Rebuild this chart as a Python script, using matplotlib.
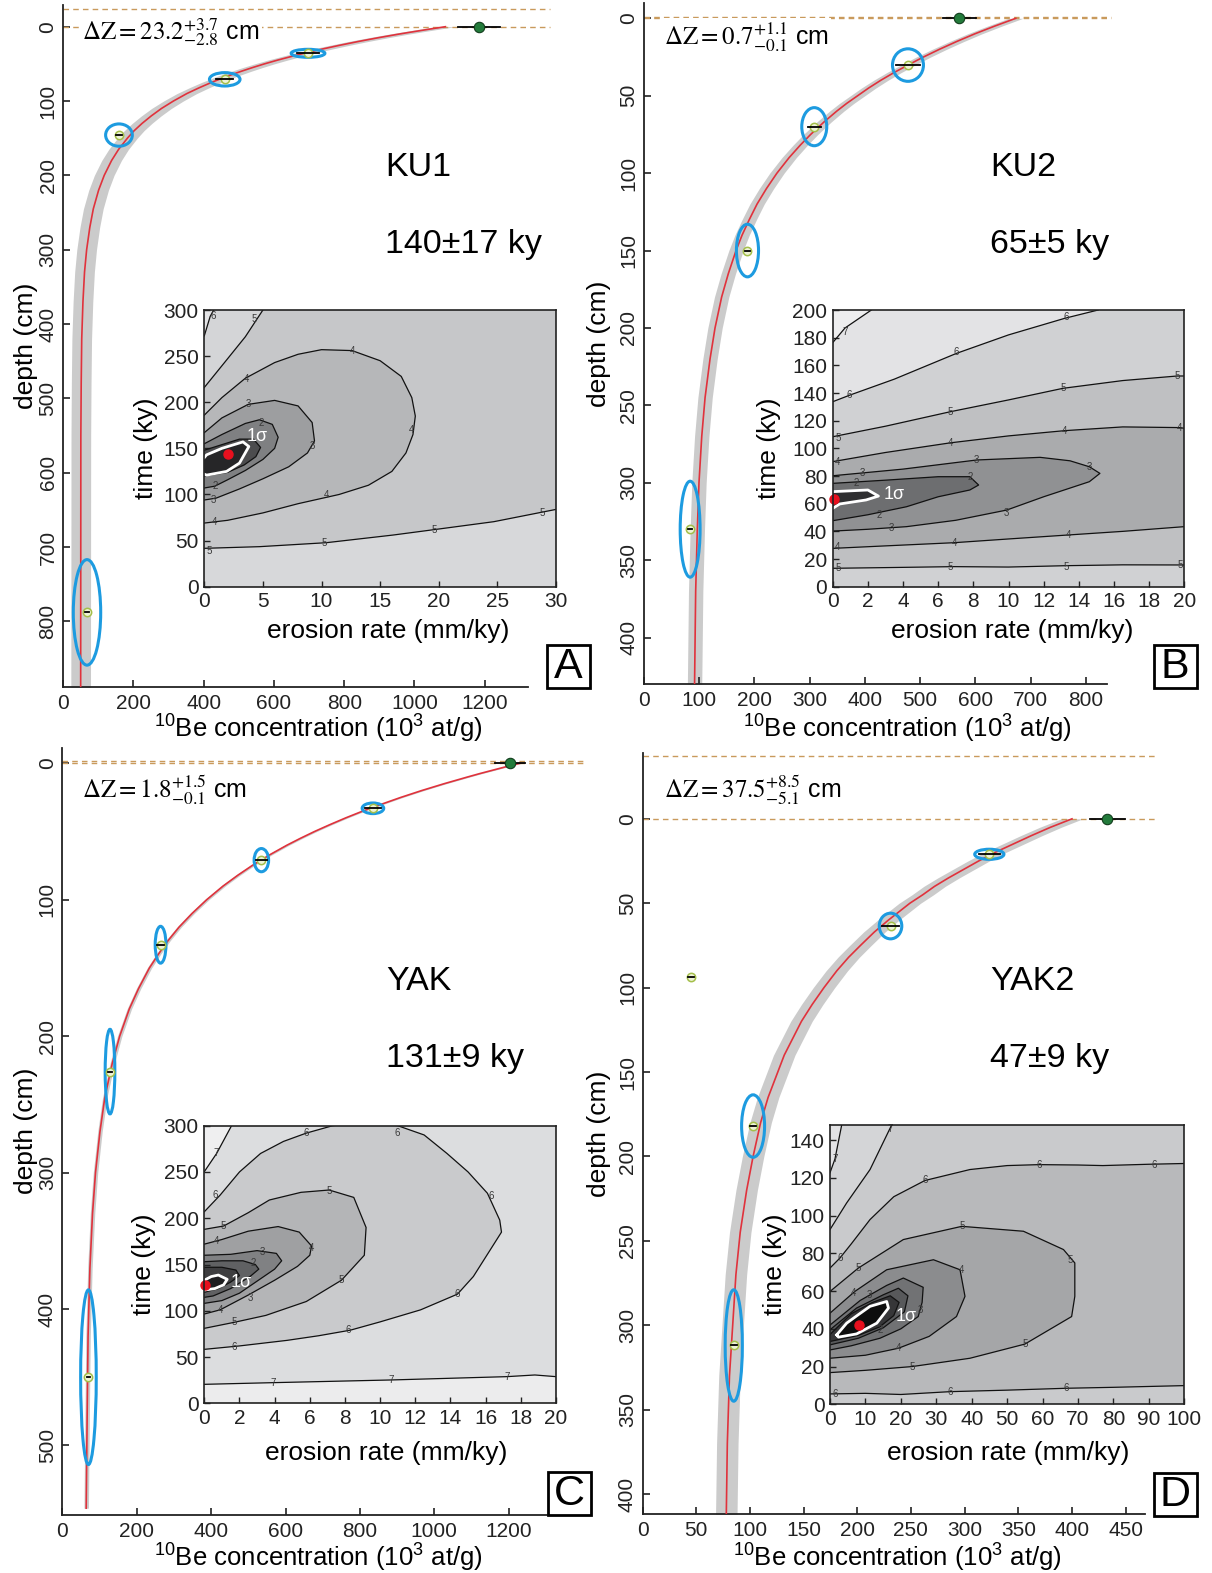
import numpy as np
import matplotlib
matplotlib.use('Agg')
import matplotlib.pyplot as plt
from matplotlib.patches import Ellipse, Rectangle

plt.rcParams['font.family'] = ['Liberation Sans', 'DejaVu Sans']
plt.rcParams['mathtext.fontset'] = 'custom'
plt.rcParams['mathtext.rm'] = 'Liberation Sans'
plt.rcParams['mathtext.it'] = 'Liberation Sans:italic'
plt.rcParams['mathtext.bf'] = 'Liberation Sans:bold'

# ------------------------------------------------------------------ data
# ---- A : KU1
ku1_curve_depth = [0, 2.5, 5, 7.5, 10, 15, 20, 25, 30, 35, 40, 45, 50, 55, 60, 67, 75, 82, 90, 100, 110, 120, 130,
                   140, 150, 165, 180, 200, 220, 245, 270, 300, 330, 370, 420, 480, 550, 890]
ku1_curve_conc = [1088, 1053, 1020, 987, 955, 895, 839, 787, 738, 692, 650, 610, 573, 539, 507, 465, 422, 388, 352,
                  314, 280, 251, 225, 202, 183, 158, 138, 117, 101, 86, 76, 67, 61, 56.5, 53, 51.5, 50.5, 50]
ku1_pt_conc = [697, 460, 159, 68]
ku1_pt_depth = [35.8, 70.8, 145.8, 788]
ku1_pt_err = [30, 24, 8, 5]
ku1_ell_halfw = [48, 43.5, 38, 39]
ku1_ell_halfh = [5.4, 9, 15, 71]
ku1_surface = [1184, 60]          # concentration, error
ku1_dz = 23.2
ku1_name, ku1_age = 'KU1', '140±17 ky'
ku1_dz_label = r'$\Delta\mathrm{Z} = 23.2^{+3.7}_{-2.8}$ cm'
ku1_best = [2.0, 143.8]
ku1_contours = [
    ('below', [0, 4.7, 10.4, 16.1, 19.8, 24.7, 30], [41.6, 43.4, 47.7, 56, 62.2, 70.5, 83.8]),
    ('topleft', [0, 1.9, 3.5, 5.0], [216, 245.8, 271, 300]),
    ('topleft', [0, 0.5, 0.8], [272, 293, 300]),
    ('closed', [0, 1.5, 3.5, 6, 8, 10, 12.6, 15, 16.8, 17.7, 18, 17.8, 17.2, 16, 14, 11.5, 8, 5, 2, 0],
     [186, 205, 226, 243, 252, 257, 256, 245, 228, 205, 185, 165, 145, 125, 110, 100, 90, 80, 72, 69]),
    ('closed', [0, 1.5, 3.75, 6, 8, 9.2, 9.4, 8.8, 7.2, 5, 3, 1, 0],
     [167, 183, 197.7, 202, 196, 178, 158, 145, 130, 117, 106, 96, 94]),
    ('closed', [0, 1.5, 3.5, 4.7, 5.8, 6.3, 6.0, 5.0, 3.5, 2, 0.9, 0],
     [155, 165, 177, 181, 176, 162, 150, 138, 126, 116, 109, 107]),
    ('closed', [0, 1.5, 3, 4.2, 4.8, 4.4, 3.4, 2, 0], [148, 154, 160, 160, 151, 141, 132, 124, 120]),
]
ku1_sigma = ([0, 0.2, 1.5, 3.3, 3.8, 3.4, 3.0, 1.9, 0.2, 0], [140, 143, 150, 157, 152, 143, 134, 125, 121, 122])
ku1_clabels = [('6', 0.8, 294), ('5', 4.3, 290), ('4', 3.6, 225), ('4', 12.6, 256), ('4', 17.7, 170),
               ('4', 10.4, 99), ('4', 0.85, 70.5), ('3', 3.75, 197.7), ('3', 9.2, 152.5), ('3', 0.8, 94),
               ('2', 4.9, 178), ('2', 0.9, 109.5), ('5', 0.4, 39), ('5', 10.2, 47), ('5', 19.6, 62),
               ('5', 28.8, 80)]

# ---- B : KU2
ku2_curve_depth = [0, 2.5, 5, 7.5, 10, 15, 20, 25, 30, 35, 40, 45, 50, 55, 60, 67, 75, 82, 90, 100, 110, 120, 130,
                   140, 150, 165, 180, 200, 220, 245, 270, 300, 330, 370, 430]
ku2_curve_conc = [673, 654, 635, 617, 599, 566, 535, 506, 479, 453, 429, 407, 387, 367, 349, 326, 302, 283, 263,
                  241, 222, 205, 191, 178, 167, 153, 141, 129, 120, 111, 105, 100, 97, 94, 92]
ku2_pt_conc = [478, 308.5, 187.7, 84]
ku2_pt_depth = [30.2, 70, 150, 330]
ku2_pt_err = [22, 12, 4, 3]
ku2_ell_halfw = [28, 22.6, 20, 18]
ku2_ell_halfh = [10.5, 12.3, 17, 31]
ku2_surface = [571, 30]
ku2_dz = 0.7
ku2_name, ku2_age = 'KU2', '65±5 ky'
ku2_dz_label = r'$\Delta\mathrm{Z} = 0.7^{+1.1}_{-0.1}$ cm'
ku2_best = [0.05, 63.5]
ku2_contours = [
    ('topleft', [0, 1, 3.5, 7.05, 10, 13.2, 15.1], [133.7, 138.6, 150, 168.7, 182, 194, 200]),
    ('topleft', [0, 0.7, 2.2], [176.4, 187, 200]),
    ('band', [0, 3, 6.7, 10, 13.1, 16.5, 19.6, 20], [108.4, 116, 126.5, 135, 143.4, 149, 152.3, 152.3],
     [0, 3, 6.9, 10, 13.3, 16.5, 20], [13.3, 13.8, 14.5, 14.2, 15.2, 15.8, 15.7]),
    ('band', [0, 3, 6.7, 10, 13.2, 16.5, 19.75, 20], [90.4, 97, 104, 109, 112.8, 115.5, 115, 114.5],
     [0, 3, 6.9, 10, 13.3, 16.5, 20], [27.7, 29.5, 31.8, 34.5, 37.3, 40, 43.4]),
    ('closed', [0, 4, 8.2, 11.8, 13.5, 14.6, 15.2, 14.6, 12, 9.9, 7, 4.2, 2, 0],
     [80.2, 85, 91.6, 93.5, 91, 86.7, 81.9, 75.9, 65, 55.4, 48, 43.4, 41.5, 40.2]),
    ('closed', [0, 3, 6, 7.8, 8.3, 7.8, 6, 4.2, 2, 0], [74.7, 77, 79.5, 79.5, 73.5, 69.9, 65, 57.8, 52, 47.7]),
]
ku2_sigma = ([0, 2.0, 2.6, 1.9, 0.4, 0], [68.7, 69.9, 65.5, 62.7, 59.8, 56.6])
ku2_clabels = [('7', 0.7, 184.3), ('6', 0.93, 138.6), ('6', 7.05, 169.9), ('6', 13.3, 194.7),
               ('5', 0.3, 107.2), ('5', 6.7, 126.5), ('5', 13.1, 143.4), ('5', 19.6, 152.3),
               ('4', 0.3, 90.4), ('4', 6.7, 104), ('4', 13.2, 112.8), ('4', 19.7, 114.5),
               ('3', 1.7, 82.4), ('3', 8.2, 91.6), ('3', 14.6, 86.7), ('3', 9.9, 53.5), ('3', 3.35, 42.7),
               ('2', 1.36, 75.2), ('2', 7.8, 79), ('2', 2.65, 51.8), ('4', 0.3, 28.9), ('4', 6.9, 31.8),
               ('4', 13.4, 37.3), ('5', 0.3, 13.3), ('5', 6.7, 14.5), ('5', 13.3, 14.5), ('5', 19.75, 15.7)]

# ---- C : YAK
yak_curve_depth = [0, 2.5, 5, 7.5, 10, 15, 20, 25, 30, 35, 40, 45, 50, 55, 60, 67, 75, 82, 90, 100, 110, 120, 130,
                   140, 150, 165, 180, 200, 220, 245, 270, 300, 330, 370, 420, 480, 546]
yak_curve_conc = [1230, 1193, 1158, 1123, 1090, 1026, 966, 910, 858, 808, 762, 719, 678, 640, 604, 558, 510, 472,
                  432, 388, 349, 314, 284, 258, 234, 205, 180, 154, 134, 114, 101, 89, 81, 74, 69, 66.5, 64]
yak_pt_conc = [835, 535, 264, 128, 70]
yak_pt_depth = [33, 71, 133, 226, 450]
yak_pt_err = [22, 14, 10, 5, 4]
yak_ell_halfw = [29, 19.5, 14.5, 13, 21]
yak_ell_halfh = [3.9, 8.5, 13.5, 31, 64]
yak_surface = [1203, 40]
yak_dz = 1.8
yak_name, yak_age = 'YAK', '131±9 ky'
yak_dz_label = r'$\Delta\mathrm{Z} = 1.8^{+1.5}_{-0.1}$ cm'
yak_best = [0.05, 127.8]
yak_contours = [
    ('topleft', [0, 0.7, 1.55], [250.3, 270, 300]),
    ('below', [0, 3.9, 10.6, 17.2, 18.8, 20], [20.5, 22.3, 25.2, 28.8, 30.6, 28.8]),
    ('closed', [0, 0.9, 2, 3.2, 4.5, 5.8, 7.3, 9, 11, 12.5, 13.8, 15, 16.1, 16.8, 16.9, 16.5, 15.3, 14.4, 12.3, 10,
                8.3, 6.5, 4.7, 2, 0],
     [207, 225, 250, 270, 283, 292, 300, 304, 300, 290, 270, 250, 227, 198, 185, 173, 137, 118, 101, 88, 79, 73,
      68, 62, 58.3]),
    ('closed', [0, 1.1, 2.5, 3.7, 5.5, 7.1, 8.5, 9.2, 9.1, 7.8, 5.8, 3.5, 1.7, 0],
     [188, 191.6, 206, 219.7, 228, 230.5, 222.5, 190, 160, 133, 110, 95, 87.5, 81]),
    ('closed', [0, 1, 2.5, 4.2, 5.4, 6.1, 6.0, 5.3, 4, 2.5, 0.9, 0],
     [172, 177, 186, 191, 185, 170, 160, 148, 133, 117, 101, 96.5]),
    ('closed', [0, 1.5, 3, 4.1, 4.4, 4.0, 3, 2, 1, 0], [160, 161, 165, 162, 154, 145, 132, 119, 111, 108]),
    ('closed', [0, 1, 2.2, 2.9, 3.1, 2.6, 1.5, 0.5, 0], [153, 154, 154, 150, 145, 137, 124, 116, 114.5]),
    ('closed', [0, 1, 1.8, 2.0, 1.5, 0.8, 0], [147, 147, 144, 138, 131, 124, 120]),
]
yak_sigma = ([0, 0.4, 0.8, 1.3, 1.1, 0.6, 0], [133, 137, 138.6, 134, 128, 124, 122.4])
yak_clabels = [('7', 0.7, 270), ('6', 0.6, 225), ('6', 5.8, 292), ('6', 11, 292), ('6', 16.3, 224),
               ('6', 14.4, 118), ('6', 8.2, 79), ('6', 1.7, 60.5), ('5', 1.1, 191.6), ('5', 7.1, 229),
               ('5', 7.8, 133), ('5', 1.7, 87.5), ('4', 0.7, 175), ('4', 6.1, 168), ('4', 0.9, 100.8),
               ('3', 3.3, 163), ('2', 2.8, 152), ('3', 2.6, 114), ('7', 3.9, 22.3), ('7', 10.6, 25.2),
               ('7', 17.2, 28.8)]

# ---- D : YAK2
yak2_curve_depth = [0, 2.5, 5, 7.5, 10, 15, 20, 25, 30, 35, 40, 45, 50, 55, 60, 67, 75, 82, 90, 100, 110, 120, 130,
                    140, 150, 165, 180, 200, 220, 245, 270, 300, 330, 370, 414]
yak2_curve_conc = [400, 390, 380, 371, 362, 345, 328, 313, 299, 285, 272, 261, 249, 239, 229, 216, 203, 192, 181,
                   169, 158, 148, 140, 132, 126, 117, 110, 103, 97, 91, 87, 84, 81, 79, 78]
yak2_pt_conc = [323, 231, 103, 85]
yak2_pt_depth = [21, 63.5, 182, 312]
yak2_pt_err = [10, 7.6, 3, 3]
yak2_ell_halfw = [13.6, 10.5, 10.7, 8]
yak2_ell_halfh = [3, 7.6, 18.5, 33]
yak2_outlier = [45.4, 93.5]
yak2_surface = [433, 16]
yak2_dz = 37.5
yak2_name, yak2_age = 'YAK2', '47±9 ky'
yak2_dz_label = r'$\Delta\mathrm{Z} = 37.5^{+8.5}_{-5.1}$ cm'
yak2_best = [8.3, 42.1]
yak2_contours = [
    ('topleft', [0, 4.7, 11.3, 17.4], [92.6, 106.7, 124.4, 148]),
    ('topleft', [0, 1.4, 3.3], [122.7, 130, 148]),
    ('band', [0, 2.8, 6, 11.3, 18, 26.8, 39.5, 50, 59, 70, 77, 90, 100],
     [72.2, 77.5, 85, 97.9, 110, 118.6, 124.4, 126.5, 127, 126.8, 126.5, 127.2, 127.6],
     [0, 10, 20, 33.9, 50, 66.8, 80, 100], [5.5, 5.8, 5.2, 6.7, 7.5, 8.5, 9.0, 9.9]),
    ('closed', [0, 8, 20.7, 37.2, 54.6, 65.9, 69.1, 69.1, 68.2, 55, 39.5, 23.2, 10, 0],
     [59.8, 72.2, 87.3, 94.3, 91.7, 82, 74.9, 57.2, 46.5, 31.9, 24.4, 20, 18, 16.8]),
    ('closed', [0, 7, 16, 29.2, 36.7, 38.1, 35.7, 28, 19.3, 10, 0],
     [48.3, 59.8, 71.3, 76.6, 71.3, 57.2, 46.5, 36, 29.7, 26, 24.4]),
    ('closed', [0, 8.5, 16, 20.7, 26.3, 26, 24.9, 20, 14.1, 6, 0], [42, 55, 63, 66.9, 62, 54, 46.5, 40, 35, 31, 28.8]),
    ('closed', [0, 7.5, 15, 19.3, 22, 21, 15, 8, 0], [39.5, 51, 58, 61.5, 57.5, 49, 40.5, 35, 31.5]),
    ('closed', [0, 6, 12, 17, 19.5, 18, 14, 8, 0], [37, 48, 54, 57.5, 54, 47, 41, 36.5, 33.3]),
]
yak2_sigma = ([1.9, 4.7, 8, 11.3, 16, 16.5, 13.2, 7.5, 2.4], [36.8, 43, 47.5, 51.9, 54.5, 51, 43, 37.3, 35.6])
yak2_clabels = [('7', 1.4, 130), ('7', 17, 146), ('6', 2.8, 77.5), ('6', 26.8, 118.6), ('6', 59, 127),
                ('6', 91.4, 127), ('5', 8, 72.2), ('5', 37.2, 94.3), ('5', 67.7, 76.6), ('5', 55, 31.9),
                ('5', 23.2, 20), ('4', 6.5, 59), ('4', 37, 71), ('4', 19.3, 29.7), ('3', 11, 58),
                ('3', 25.5, 50), ('2', 14.1, 39.5), ('6', 1.5, 5.5), ('6', 33.9, 6.7), ('6', 66.8, 8.5)]

# ------------------------------------------------------------------ styles
W, H = 1212, 1573
fig = plt.figure(figsize=(W / 100, H / 100), dpi=100)


def box(l, t, r, b):
    return [l / W, 1 - b / H, (r - l) / W, (b - t) / H]


def ftext(x, y, s, **kw):
    return fig.text(x / W, 1 - y / H, s, **kw)


def setup_main(ax, xlim, ylim, xticks, yticks):
    ax.set_xlim(*xlim)
    ax.set_ylim(*ylim)
    ax.set_xticks(xticks)
    ax.set_yticks(yticks)
    for s in ['top', 'right']:
        ax.spines[s].set_visible(False)
    for s in ['left', 'bottom']:
        ax.spines[s].set_linewidth(1.3)
        ax.spines[s].set_color('#222222')
    ax.tick_params(direction='in', length=5, width=1.2, colors='#222222', labelsize=15, pad=5)
    ax.tick_params(axis='y', labelrotation=90, pad=4)
    for lab in ax.get_yticklabels():
        lab.set_va('center')


def draw_main(ax, cdepth, cconc, bandw, pconc, pdepth, perr, ehw, ehh, surface, dz, dash_end):
    cconc = np.asarray(cconc, dtype=float)
    ax.fill_betweenx(cdepth, cconc - bandw, cconc + bandw, color='#cbcbcb', lw=0, zorder=1)
    ax.plot(cconc, cdepth, color='#e0323c', lw=1.2, zorder=3)
    for y in (0, -dz):
        ax.plot([0, dash_end], [y, y], color='#c99a5c', lw=1.0, ls=(0, (4, 3)), zorder=2, clip_on=False)
    for c, d, e, w, h in zip(pconc, pdepth, perr, ehw, ehh):
        ax.add_patch(Ellipse((c, d), 2 * w, 2 * h, fill=False, ec='#1d9be0', lw=2.2, zorder=4))
        ax.plot(c, d, 'o', ms=6, mfc='#eef3d6', mec='#a4bf4a', mew=1.1, zorder=5)
        ax.plot([c - e, c + e], [d, d], color='k', lw=1.3, zorder=6)
    ax.plot([surface[0] - surface[1], surface[0] + surface[1]], [0, 0], color='k', lw=1.3, zorder=6)
    ax.plot(surface[0], 0, 'o', ms=7.5, mfc='#237b3b', mec='#123d1d', mew=0.8, zorder=7, clip_on=False)


def setup_inset(ax, xlim, ylim, xticks, yticks):
    ax.set_xlim(*xlim)
    ax.set_ylim(*ylim)
    ax.set_xticks(xticks)
    ax.set_yticks(yticks)
    for s in ax.spines.values():
        s.set_linewidth(1.2)
        s.set_color('#222222')
        s.set_zorder(10)
    ax.tick_params(direction='in', length=4, width=1.0, colors='#222222', labelsize=15, pad=4)


def draw_inset(ax, bg, contours, colors, sigma, sigma_fill, best, clabels, sig_lab_pos):
    ax.set_facecolor(bg)
    ylim = ax.get_ylim()
    for cont, col in zip(contours, colors):
        kind = cont[0]
        if kind == 'band':
            xs, ys, xs2, ys2 = cont[1:]
            px = list(xs) + list(xs2)[::-1]
            py = list(ys) + list(ys2)[::-1]
            ax.fill(px, py, color=col, lw=0, zorder=1)
            ax.plot(xs, ys, color='#111111', lw=0.9, zorder=2)
            ax.plot(xs2, ys2, color='#111111', lw=0.9, zorder=2)
            continue
        xs, ys = cont[1:]
        if kind == 'below':
            px = list(xs) + [xs[-1], xs[0]]
            py = list(ys) + [ylim[0], ylim[0]]
        elif kind == 'topleft':
            px = list(xs) + [xs[0]]
            py = list(ys) + [ylim[1]]
        else:
            px, py = list(xs), list(ys)
        ax.fill(px, py, color=col, lw=0, zorder=1)
        ax.plot(xs, ys, color='#111111', lw=0.9, zorder=2)
    sx, sy = sigma
    ax.fill(sx, sy, color=sigma_fill, lw=0, zorder=3)
    if sx[0] != 0:
        sx = list(sx) + [sx[0]]
        sy = list(sy) + [sy[0]]
    ax.plot(sx, sy, color='white', lw=2.0, zorder=4)
    for t, x, y in clabels:
        ax.text(x, y, t, fontsize=7, color='#3a3a3a', ha='center', va='center', zorder=5)
    ax.plot(best[0], best[1], 'o', ms=6.5, mfc='#e8101e', mec='#e8101e', zorder=6, clip_on=False)
    ax.text(sig_lab_pos[0], sig_lab_pos[1], '1σ', fontsize=13, color='white', ha='left', va='center', zorder=6)


def letter_box(cx, cy, letter):
    s = 43
    fig.patches.append(Rectangle(((cx - s / 2) / W, 1 - (cy + s / 2) / H), s / W, s / H,
                                 transform=fig.transFigure, fill=False, ec='black', lw=2.0))
    ftext(cx, cy + 1, letter, fontsize=31, ha='center', va='center')


# ------------------------------------------------------------------ panel A
axA = fig.add_axes(box(63.1, 5, 528, 686.7))
setup_main(axA, (0, 1323), (888, -29.2), range(0, 1201, 200), range(0, 801, 100))
draw_main(axA, ku1_curve_depth, ku1_curve_conc, 28, ku1_pt_conc, ku1_pt_depth, ku1_pt_err,
          ku1_ell_halfw, ku1_ell_halfh, ku1_surface, ku1_dz, 1385)
insA = fig.add_axes(box(204.3, 310, 556, 586.7))
setup_inset(insA, (0, 30), (0, 300), range(0, 31, 5), range(0, 301, 50))
draw_inset(insA, '#c6c7c9', ku1_contours,
           ['#d7d8da', '#d4d5d7', '#e4e4e6', '#b6b7b9', '#9d9ea0', '#7f8082', '#4c4c4e'],
           ku1_sigma, '#262628', ku1_best, ku1_clabels, (3.6, 163))

# ------------------------------------------------------------------ panel B
axB = fig.add_axes(box(643.7, 3.3, 1107, 684))
setup_main(axB, (0, 838), (430, -9.7), range(0, 801, 100), range(0, 401, 50))
draw_main(axB, ku2_curve_depth, ku2_curve_conc, 13, ku2_pt_conc, ku2_pt_depth, ku2_pt_err,
          ku2_ell_halfw, ku2_ell_halfh, ku2_surface, ku2_dz, 845)
insB = fig.add_axes(box(832.7, 310, 1184.3, 586.7))
setup_inset(insB, (0, 20), (0, 200), range(0, 21, 2), range(0, 201, 20))
draw_inset(insB, '#d0d1d3', ku2_contours,
           ['#e3e3e5', '#eeeeef', '#bfc0c2', '#aaabad', '#909193', '#6d6e70'],
           ku2_sigma, '#2e2e30', ku2_best, ku2_clabels, (2.9, 66.3))

# ------------------------------------------------------------------ panel C
axC = fig.add_axes(box(62.4, 748, 547, 1515))
setup_main(axC, (0, 1303), (551, -11.2), range(0, 1201, 200), range(0, 501, 100))
draw_main(axC, yak_curve_depth, yak_curve_conc, 6, yak_pt_conc, yak_pt_depth, yak_pt_err,
          yak_ell_halfw, yak_ell_halfh, yak_surface, yak_dz, 1400)
insC = fig.add_axes(box(204.3, 1125.7, 556, 1403.3))
setup_inset(insC, (0, 20), (0, 300), range(0, 21, 2), range(0, 301, 50))
draw_inset(insC, '#dcdddf', yak_contours,
           ['#efeff0', '#ececed', '#c9cacc', '#b4b5b7', '#9fa0a2', '#808183', '#606163', '#3e3e40'],
           yak_sigma, '#1e1e20', yak_best, yak_clabels, (1.5, 131))

# ------------------------------------------------------------------ panel D
axD = fig.add_axes(box(642.5, 753, 1145, 1514.3))
setup_main(axD, (0, 468), (412, -39), range(0, 451, 50), range(0, 401, 50))
draw_main(axD, yak2_curve_depth, yak2_curve_conc, 10, yak2_pt_conc, yak2_pt_depth, yak2_pt_err,
          yak2_ell_halfw, yak2_ell_halfh, yak2_surface, yak2_dz, 480)
axD.plot(yak2_outlier[0], yak2_outlier[1], 'o', ms=6, mfc='#eef3d6', mec='#a4bf4a', mew=1.1, zorder=5)
axD.plot([yak2_outlier[0] - 3, yak2_outlier[0] + 3], [yak2_outlier[1]] * 2, color='k', lw=1.3, zorder=6)
insD = fig.add_axes(box(830, 1125, 1184.3, 1404.3))
setup_inset(insD, (0, 100), (0, 148), range(0, 101, 10), range(0, 141, 20))
draw_inset(insD, '#c9cacc', yak2_contours,
           ['#d4d5d7', '#e3e3e5', '#b8b9bb', '#a5a6a8', '#8b8c8e', '#717274', '#58595b', '#363638'],
           yak2_sigma, '#0e0e0e', yak2_best, yak2_clabels, (18.5, 46.5))

# ------------------------------------------------------------------ texts
xlab = r'$^{10}$Be concentration (10$^{3}$ at/g)'
for (xc, yc) in [(318, 729), (907, 729), (318, 1558), (897, 1558)]:
    ftext(xc, yc, xlab, fontsize=18.5, ha='center', va='center')
for (xc, yc) in [(26, 346), (599, 344), (26, 1131), (599, 1134)]:
    ftext(xc, yc, 'depth (cm)', fontsize=19, rotation=90, ha='center', va='center')
for (xc, yc) in [(146, 448), (769, 448), (144, 1264), (775, 1264)]:
    ftext(xc, yc, 'time (ky)', fontsize=19, rotation=90, ha='center', va='center')
for (xc, yc) in [(388, 631), (1012, 631), (386, 1453), (1008, 1453)]:
    ftext(xc, yc, 'erosion rate (mm/ky)', fontsize=19, ha='center', va='center')

for (x, y1, y2, name, age) in [(385, 168, 245, ku1_name, ku1_age), (990, 168, 245, ku2_name, ku2_age),
                               (386, 982, 1059, yak_name, yak_age), (990, 982, 1059, yak2_name, yak2_age)]:
    ftext(x, y1, name, fontsize=24.5, ha='left', va='center')
    ftext(x, y2, age, fontsize=24.5, ha='left', va='center')

for (x, y, lab) in [(82, 31.7, ku1_dz_label), (664, 37, ku2_dz_label), (82, 790, yak_dz_label),
                    (664, 790, yak2_dz_label)]:
    ftext(x, y, lab, fontsize=18, ha='left', va='center', math_fontfamily='stix',
          bbox=dict(boxstyle='square,pad=0.1', fc='white', ec='none'))

letter_box(568, 666, 'A')
letter_box(1175, 666, 'B')
letter_box(569, 1493, 'C')
letter_box(1175, 1494, 'D')

fig.savefig('out.png', dpi=100)
